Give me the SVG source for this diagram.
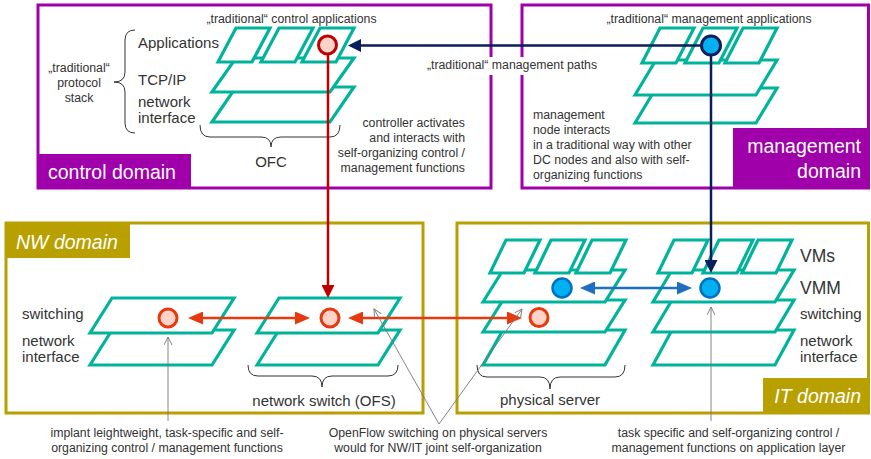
<svg xmlns="http://www.w3.org/2000/svg" width="871" height="459" viewBox="0 0 871 459">
  <defs>
    <style>
      text { font-family: "Liberation Sans", Arial, sans-serif; fill: #333; }
      .small { font-size: 12.3px; }
      .label { font-size: 15px; }
      .big { font-size: 17.5px; }
      .dom { font-size: 19.5px; fill: #fff; }
      .ital { font-style: italic; }
      .mid { text-anchor: middle; }
      .end { text-anchor: end; }
      .purple { fill: none; stroke: #A000AA; stroke-width: 3; }
      .olive { fill: none; stroke: #B8A000; stroke-width: 3; }
      .layer { fill: #fff; stroke: #00B39B; stroke-width: 3.2; stroke-linejoin: miter; }
      .brace { fill: none; stroke: #333; stroke-width: 1; }
      .ptr { fill: none; stroke: #777; stroke-width: 0.9; marker-end: url(#open); }
      .sfn { fill: #FFD3C8; stroke-width: 3; }
    </style>
    <marker id="ah-red" markerUnits="userSpaceOnUse" markerWidth="14" markerHeight="13" refX="10" refY="6.5" orient="auto-start-reverse">
      <path d="M0,0 L13,6.5 L0,13 z" fill="#C00000"/>
    </marker>
    <marker id="ah-navy" markerUnits="userSpaceOnUse" markerWidth="14" markerHeight="13" refX="10" refY="6.5" orient="auto-start-reverse">
      <path d="M0,0 L13,6.5 L0,13 z" fill="#0A1E5C"/>
    </marker>
    <marker id="ah-orange" markerUnits="userSpaceOnUse" markerWidth="15" markerHeight="13" refX="11" refY="6.5" orient="auto-start-reverse">
      <path d="M0,0 L15,6.5 L0,13 z" fill="#E8380D"/>
    </marker>
    <marker id="ah-blue" markerUnits="userSpaceOnUse" markerWidth="15" markerHeight="13" refX="11" refY="6.5" orient="auto-start-reverse">
      <path d="M0,0 L15,6.5 L0,13 z" fill="#1F6FC0"/>
    </marker>
    <marker id="open" markerUnits="userSpaceOnUse" markerWidth="9" markerHeight="9" refX="8" refY="4" orient="auto">
      <path d="M0,0 L8,4 L0,8" fill="none" stroke="#777" stroke-width="0.9"/>
    </marker>
  </defs>

  <rect width="871" height="459" fill="#fff"/>

  <!-- domain frames -->
  <g id="control-domain">
    <rect class="purple" x="38" y="5" width="453" height="183"/>
    <rect x="38" y="154" width="153" height="35" fill="#A000AA"/>
    <text class="dom" x="48" y="179">control domain</text>
  </g>
  <g id="management-domain">
    <rect class="purple" x="522" y="5" width="346.5" height="183"/>
    <rect x="733" y="128" width="137" height="61" fill="#A000AA"/>
    <text class="dom end" x="861" y="153">management</text>
    <text class="dom end" x="861" y="178">domain</text>
  </g>
  <g id="nw-domain">
    <rect class="olive" x="6" y="223" width="417" height="190"/>
    <rect x="5" y="222" width="125" height="36" fill="#B8A000"/>
    <text class="dom ital" x="16" y="249">NW domain</text>
  </g>
  <g id="it-domain">
    <rect class="olive" x="457" y="223" width="411.5" height="190"/>
    <rect x="763" y="378" width="107" height="36" fill="#B8A000"/>
    <text class="dom ital end" x="861" y="403">IT domain</text>
  </g>

  <!-- label over the gap between the upper domains -->
  <rect x="424" y="57" width="176" height="18" fill="#fff"/>
  <text class="small mid" x="512" y="69">„traditional“ management paths</text>

  <!-- OpenFlow controller -->
  <g id="ofc">
    <polygon class="layer" points="212,122 236,87 354,87 330,122"/>
    <polygon class="layer" points="212,92 236,58 354,58 330,92"/>
    <polygon class="layer" points="218,62 236,28 270,28 252,62"/>
    <polygon class="layer" points="261,62 279,28 313,28 295,62"/>
    <polygon class="layer" points="302,62 320,28 354,28 336,62"/>
    <circle class="sfn" cx="327.5" cy="45" r="9" stroke="#C00000"/>
    <text class="small mid" x="291.5" y="23">„traditional“ control applications</text>
    <text class="label" x="138" y="48">Applications</text>
    <text class="label" x="138" y="85">TCP/IP</text>
    <text class="label" x="138" y="107">network</text>
    <text class="label" x="138" y="123">interface</text>
    <text class="small mid" x="79" y="72">„traditional“</text>
    <text class="small mid" x="79" y="87">protocol</text>
    <text class="small mid" x="79" y="102">stack</text>
    <path class="brace" d="M135,30 Q125,30 125,40 L125,72 Q125,82 114,82 Q125,82 125,92 L125,123 Q125,133 135,133"/>
    <path class="brace" d="M200,125 Q200,137 210,137 L261,137 Q271,137 271,147 Q271,137 281,137 L330,137 Q340,137 340,125"/>
    <text class="label mid" x="271" y="167">OFC</text>
    <text class="small end" x="465" y="127">controller activates</text>
    <text class="small end" x="465" y="142">and interacts with</text>
    <text class="small end" x="465" y="157">self-organizing control /</text>
    <text class="small end" x="465" y="172">management functions</text>
  </g>

  <!-- management node -->
  <g id="mgmt-node">
    <polygon class="layer" points="635,123 656,88 777,88 756,123"/>
    <polygon class="layer" points="635,95 656,60 777,60 756,95"/>
    <polygon class="layer" points="642,63 660,28 694,28 676,63"/>
    <polygon class="layer" points="685,63 703,28 737,28 719,63"/>
    <polygon class="layer" points="725,63 743,28 777,28 759,63"/>
    <circle cx="711" cy="45.5" r="9.5" fill="#00B0F0" stroke="#0A1E5C" stroke-width="3"/>
    <text class="small mid" x="709" y="23">„traditional“ management applications</text>
    <text class="small" x="533" y="119">management</text>
    <text class="small" x="533" y="134">node interacts</text>
    <text class="small" x="533" y="149">in a traditional way with other</text>
    <text class="small" x="533" y="164">DC nodes and also with self-</text>
    <text class="small" x="533" y="179">organizing functions</text>
  </g>

  <!-- plain network switch -->
  <g id="switch">
    <polygon class="layer" points="90,365 112,330 234,330 212,365"/>
    <polygon class="layer" points="90,333 112,298 234,298 212,333"/>
    <circle class="sfn" cx="168" cy="318" r="9" stroke="#E8380D"/>
    <text class="label" x="22" y="319">switching</text>
    <text class="label" x="22" y="346">network</text>
    <text class="label" x="22" y="362">interface</text>
  </g>

  <!-- OpenFlow switch -->
  <g id="ofs">
    <polygon class="layer" points="257,365 279,330 400,330 378,365"/>
    <polygon class="layer" points="257,333 279,298 400,298 378,333"/>
    <circle class="sfn" cx="330" cy="318" r="9" stroke="#E8380D"/>
    <path class="brace" d="M248,365 Q248,376 258,376 L312,376 Q322,376 322,387 Q322,376 332,376 L388,376 Q398,376 398,365"/>
    <text class="label mid" x="324" y="406">network switch (OFS)</text>
  </g>

  <!-- physical server -->
  <g id="physical-server">
    <polygon class="layer" points="483,365 503,330 625,330 605,365"/>
    <polygon class="layer" points="483,332 503,300 625,300 605,332"/>
    <polygon class="layer" points="483,302 503,270 625,270 605,302"/>
    <polygon class="layer" points="490,273 506,240 540,240 524,273"/>
    <polygon class="layer" points="535,273 551,240 585,240 569,273"/>
    <polygon class="layer" points="576,273 592,240 626,240 610,273"/>
    <circle cx="562" cy="288" r="9.5" fill="#00B0F0" stroke="#0070C0" stroke-width="2.5"/>
    <circle class="sfn" cx="539" cy="317.5" r="9" stroke="#E8380D"/>
    <path class="brace" d="M477,365 Q477,377 487,377 L540,377 Q550,377 550,389 Q550,377 560,377 L615,377 Q625,377 625,365"/>
    <text class="label mid" x="550" y="405">physical server</text>
  </g>

  <!-- virtualised server -->
  <g id="vm-server">
    <polygon class="layer" points="653,365 672,330 794,330 775,365"/>
    <polygon class="layer" points="653,332 672,300 794,300 775,332"/>
    <polygon class="layer" points="653,302 672,270 794,270 775,302"/>
    <polygon class="layer" points="658,273 674,240 708,240 692,273"/>
    <polygon class="layer" points="703,273 719,240 753,240 737,273"/>
    <polygon class="layer" points="742,273 758,240 792,240 776,273"/>
    <circle cx="710" cy="288" r="9.5" fill="#00B0F0" stroke="#0070C0" stroke-width="2.5"/>
    <text class="big" x="800" y="262">VMs</text>
    <text class="big" x="800" y="294">VMM</text>
    <text class="label" x="800" y="319">switching</text>
    <text class="label" x="800" y="346">network</text>
    <text class="label" x="800" y="362">interface</text>
  </g>

  <!-- connectors -->
  <g id="connectors">
    <line x1="328" y1="55" x2="328" y2="295" stroke="#C00000" stroke-width="2.5" marker-end="url(#ah-red)"/>
    <line x1="700" y1="45.5" x2="351" y2="45.5" stroke="#0A1E5C" stroke-width="2.5" marker-end="url(#ah-navy)"/>
    <line x1="711" y1="56" x2="711" y2="270" stroke="#0A1E5C" stroke-width="2.5" marker-end="url(#ah-navy)"/>
    <line x1="192" y1="318" x2="306" y2="318" stroke="#E8380D" stroke-width="2.5" marker-start="url(#ah-orange)" marker-end="url(#ah-orange)"/>
    <line x1="352" y1="318" x2="518" y2="318" stroke="#E8380D" stroke-width="2.5" marker-start="url(#ah-orange)" marker-end="url(#ah-orange)"/>
    <line x1="584" y1="288" x2="688" y2="288" stroke="#1F6FC0" stroke-width="2.5" marker-start="url(#ah-blue)" marker-end="url(#ah-blue)"/>
    <path class="ptr" d="M168,421 L168,337"/>
    <path class="ptr" d="M439,424 L374,309"/>
    <path class="ptr" d="M439,424 L522,309"/>
    <path class="ptr" d="M711,421 L711,307"/>
  </g>

  <!-- footnotes -->
  <g id="notes">
    <text class="small mid" x="167" y="437">implant leightweight, task-specific and self-</text>
    <text class="small mid" x="167" y="452">organizing control / management functions</text>
    <text class="small mid" x="438" y="437">OpenFlow switching on physical servers</text>
    <text class="small mid" x="438" y="452">would for NW/IT joint self-organization</text>
    <text class="small mid" x="728.5" y="437">task specific and self-organizing control /</text>
    <text class="small mid" x="728.5" y="452">management functions on application layer</text>
  </g>
</svg>
